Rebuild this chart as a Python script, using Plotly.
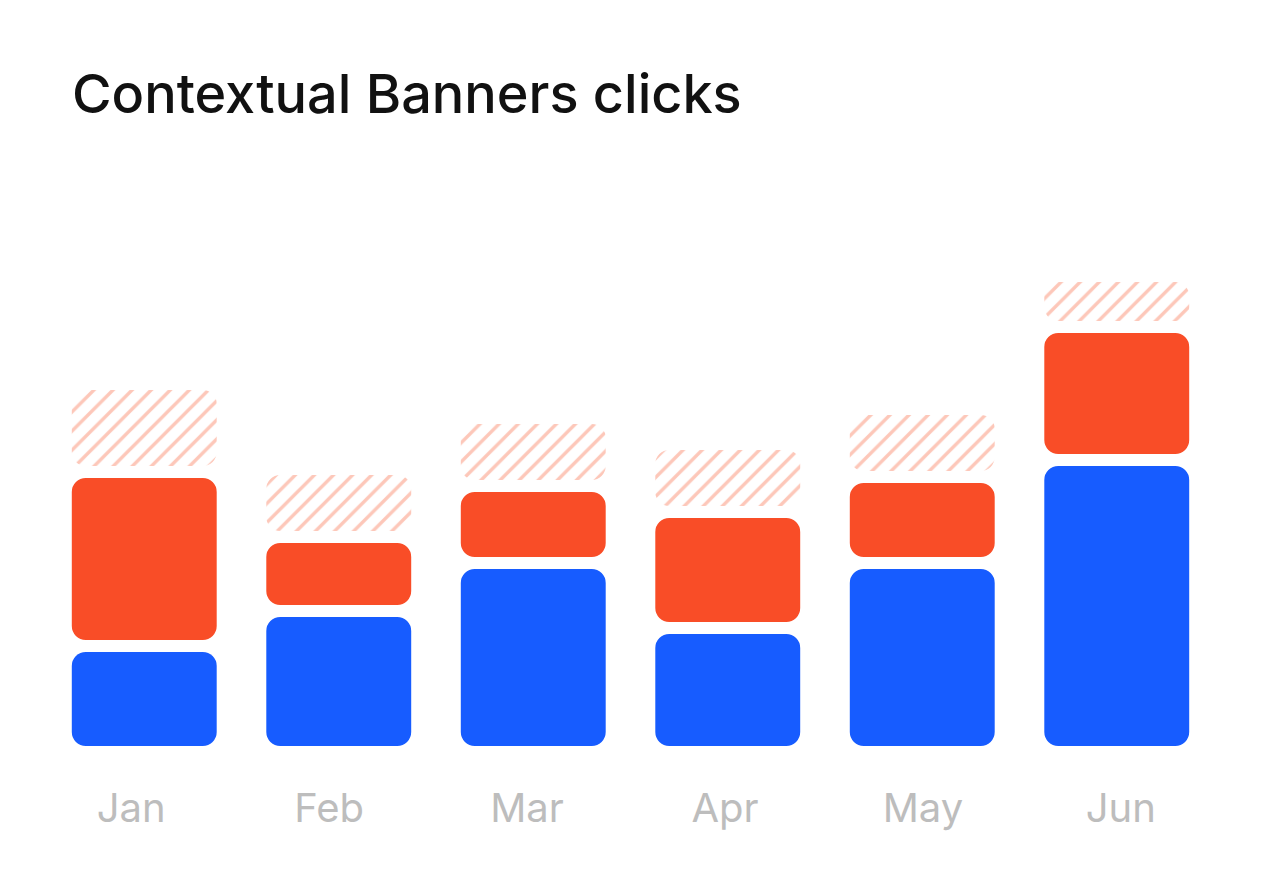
import plotly.graph_objects as go

# ---- data ----
months = ["Jan", "Feb", "Mar", "Apr", "May", "Jun"]
clicks = [94, 129, 177, 112, 177, 280]          # blue segment
extra_clicks = [162, 62, 65, 104, 74, 121]      # orange segment
forecast = [76, 56, 56, 56, 56, 39]             # hatched segment

# ---- style constants ----
GAP = 12          # visual gap between stacked segments (axis units)
RADIUS = 14       # corner radius in px
BAR_W = 0.745
BLUE = "#175CFF"
ORANGE = "#F94D27"
HATCH = "#FDC7B9"
LABEL = "#BDBDBD"
FONT = "Inter"
LABEL_RANGE = [-0.4257, 5.471]   # label axis is spread slightly wider than the bars

fig = go.Figure()


def add_segment(bases, heights, marker, name):
    fig.add_trace(go.Bar(
        x=months, y=heights, base=bases, width=BAR_W,
        marker=dict(cornerradius=RADIUS, line=dict(width=0), **marker),
        name=name, showlegend=False,
        hovertemplate="%{x}: %{y}<extra>" + name + "</extra>"))


blue_base = [0] * len(months)
orange_base = [c + GAP for c in clicks]
hatch_base = [c + GAP + e + GAP for c, e in zip(clicks, extra_clicks)]

add_segment(blue_base, clicks, dict(color=BLUE), "Clicks")
add_segment(orange_base, extra_clicks, dict(color=ORANGE), "Extra clicks")
add_segment(hatch_base, forecast,
            dict(color="white",
                 pattern=dict(shape="/", fgcolor=HATCH, bgcolor="white",
                              size=13.5, solidity=0.25, fillmode="replace")),
            "Forecast")

# invisible carrier trace for the month-label axis
fig.add_trace(go.Scatter(x=months, y=clicks, xaxis="x2", mode="none",
                         hoverinfo="skip", showlegend=False))

fig.update_layout(
    width=1263, height=891, autosize=False,
    barmode="overlay",
    showlegend=False,
    paper_bgcolor="white", plot_bgcolor="white",
    margin=dict(l=47, r=49, t=246, b=145, pad=0),
    title=dict(text="Contextual Banners clicks",
               font=dict(family=FONT, size=54, color="#111111", weight=500),
               x=72 / 1263, xref="container", xanchor="left",
               y=1 - 94 / 891, yref="container", yanchor="middle"),
    xaxis=dict(range=[-0.5, 5.5], showgrid=False, zeroline=False, showline=False,
               ticks="", showticklabels=False, fixedrange=True),
    xaxis2=dict(type="category", categoryarray=months, categoryorder="array",
                range=LABEL_RANGE, overlaying="x", side="bottom", anchor="y",
                showgrid=False, zeroline=False, showline=False, ticks="",
                tickfont=dict(family=FONT, size=40, color=LABEL),
                ticklabelstandoff=35, fixedrange=True),
    yaxis=dict(range=[0, 500], visible=False, showgrid=False, zeroline=False,
               fixedrange=True),
)

fig.write_html("out.html")
